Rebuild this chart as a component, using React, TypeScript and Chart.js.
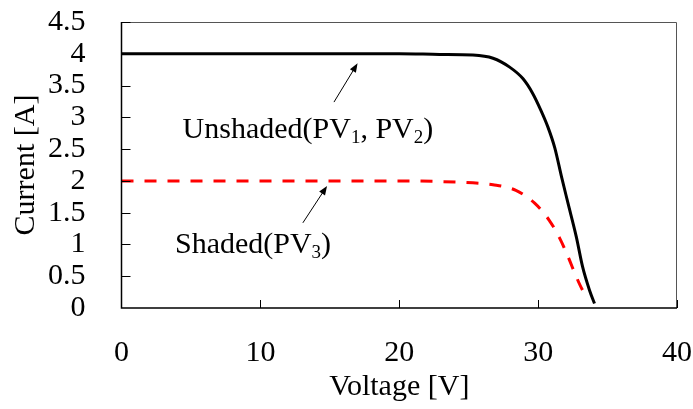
import React, { useEffect, useRef } from "react";
import { Chart, registerables } from "chart.js";

Chart.register(...registerables);

const unshadedV = [0, 10, 20, 22.9, 25.3, 26.75, 27.95, 28.9, 29.6, 30.2, 30.7, 31.2, 31.7, 32.15, 32.75, 33.2, 33.7, 34.06];
const unshadedI = [4, 4, 4, 3.99, 3.98, 3.93, 3.79, 3.61, 3.38, 3.11, 2.85, 2.52, 2.05, 1.65, 1.12, 0.65, 0.28, 0.07];
const shadedV = [0, 10, 20, 22.9, 25.3, 26.75, 28.4, 29.75, 30.8, 31.55, 32.15, 32.75, 33.2, 33.5];
const shadedI = [2, 2, 2, 1.99, 1.97, 1.94, 1.85, 1.65, 1.38, 1.1, 0.81, 0.49, 0.28, 0.18];

const xTicks = [0, 10, 20, 30, 40];
const yTicks = [0, 0.5, 1, 1.5, 2, 2.5, 3, 3.5, 4, 4.5];

const xTitle = "Voltage [V]";
const yTitle = "Current [A]";

// annotations: arrows (from -> to, in data units) and labels
const unshadedArrow = { from: [15.3, 3.24], to: [17.0, 3.85] };
const shadedArrow = { from: [13.06, 1.34], to: [14.8, 1.92] };
const unshadedLabel = { at: [4.4, 2.67], parts: [["Unshaded(PV", false], ["1", true], [", PV", false], ["2", true], [")", false]] };
const shadedLabel = { at: [3.85, 0.865], parts: [["Shaded(PV", false], ["3", true], [")", false]] };

const FONT = "'Times New Roman', 'Liberation Serif', serif";
const FS = 30;

export default function App() {
  const ref = useRef<HTMLCanvasElement | null>(null);

  useEffect(() => {
    const canvas = ref.current;
    if (!canvas) return;

    const decor = {
      id: "decor",
      afterDatasetsDraw(chart: any) {
        const ctx = chart.ctx;
        const ca = chart.chartArea;
        const xs = chart.scales.x;
        const ys = chart.scales.y;
        ctx.save();
        // frame
        ctx.strokeStyle = "#555";
        ctx.lineWidth = 1;
        ctx.beginPath();
        ctx.moveTo(ca.left, ca.top + 0.5);
        ctx.lineTo(ca.right - 0.5, ca.top + 0.5);
        ctx.lineTo(ca.right - 0.5, ca.bottom);
        ctx.stroke();
        ctx.strokeStyle = "#000";
        ctx.lineWidth = 1.5;
        ctx.beginPath();
        ctx.moveTo(ca.left, ca.top);
        ctx.lineTo(ca.left, ca.bottom);
        ctx.lineTo(ca.right, ca.bottom);
        ctx.stroke();
        // inner ticks
        ctx.lineWidth = 1;
        ctx.beginPath();
        yTicks.forEach((v) => {
          if (v === 0) return;
          const y = Math.round(ys.getPixelForValue(v)) + 0.5;
          ctx.moveTo(ca.left, y);
          ctx.lineTo(ca.left + 9, y);
        });
        xTicks.forEach((v) => {
          if (v === 0) return;
          const x = Math.round(xs.getPixelForValue(v)) + 0.5;
          ctx.moveTo(x, ca.bottom);
          ctx.lineTo(x, ca.bottom - 8);
        });
        ctx.stroke();
        // arrows
        const arrow = (a: any) => {
          const x1 = xs.getPixelForValue(a.from[0]);
          const y1 = ys.getPixelForValue(a.from[1]);
          const x2 = xs.getPixelForValue(a.to[0]);
          const y2 = ys.getPixelForValue(a.to[1]);
          const ang = Math.atan2(y2 - y1, x2 - x1);
          const L = 9, W = 3.5;
          ctx.strokeStyle = "#000";
          ctx.lineWidth = 1;
          ctx.beginPath();
          ctx.moveTo(x1, y1);
          ctx.lineTo(x2 - Math.cos(ang) * L * 0.8, y2 - Math.sin(ang) * L * 0.8);
          ctx.stroke();
          ctx.fillStyle = "#000";
          ctx.beginPath();
          ctx.moveTo(x2, y2);
          ctx.lineTo(x2 - Math.cos(ang) * L - Math.sin(ang) * W, y2 - Math.sin(ang) * L + Math.cos(ang) * W);
          ctx.lineTo(x2 - Math.cos(ang) * L + Math.sin(ang) * W, y2 - Math.sin(ang) * L - Math.cos(ang) * W);
          ctx.closePath();
          ctx.fill();
        };
        arrow(unshadedArrow);
        arrow(shadedArrow);
        // labels
        const label = (l: any) => {
          let x = xs.getPixelForValue(l.at[0]);
          const y = ys.getPixelForValue(l.at[1]);
          ctx.fillStyle = "#000";
          ctx.textBaseline = "alphabetic";
          ctx.textAlign = "left";
          l.parts.forEach((p: any) => {
            const sub = p[1];
            ctx.font = (sub ? "19px " : FS + "px ") + FONT;
            ctx.fillText(p[0], x, y + (sub ? 5 : 0));
            x += ctx.measureText(p[0]).width;
          });
        };
        label(unshadedLabel);
        label(shadedLabel);
        ctx.restore();
      },
    };

    const chart = new Chart(canvas, {
      type: "line",
      data: {
        datasets: [
          {
            label: "Unshaded",
            data: unshadedV.map((v, i) => ({ x: v, y: unshadedI[i] })),
            borderColor: "#000",
            borderWidth: 3,
            pointRadius: 0,
            fill: false,
            cubicInterpolationMode: "monotone",
          },
          {
            label: "Shaded",
            data: shadedV.map((v, i) => ({ x: v, y: shadedI[i] })),
            borderColor: "#ff0000",
            borderWidth: 3,
            borderDash: [12, 11],
            pointRadius: 0,
            fill: false,
            cubicInterpolationMode: "monotone",
          },
        ],
      },
      options: {
        animation: false,
        responsive: false,
        layout: { padding: { top: 22, right: 16, left: 0, bottom: 0 } },
        plugins: { legend: { display: false }, tooltip: { enabled: false } },
        scales: {
          x: {
            type: "linear",
            min: 0,
            max: 40,
            afterBuildTicks: (s: any) => { s.ticks = xTicks.map((v) => ({ value: v })); },
            afterFit: (s: any) => { s.height = 101; s.paddingLeft = 0; s.paddingRight = 0; },
            grid: { display: false },
            border: { display: false },
            ticks: { color: "#000", font: { family: FONT, size: FS }, padding: 19, maxRotation: 0, autoSkip: false, callback: (v: any) => String(v) },
            title: { display: true, text: xTitle, color: "#000", font: { family: FONT, size: FS }, padding: { top: 0, bottom: 4 } },
          },
          y: {
            type: "linear",
            min: 0,
            max: 4.5,
            afterBuildTicks: (s: any) => { s.ticks = yTicks.map((v) => ({ value: v })); },
            afterFit: (s: any) => { s.width = 121.5; s.paddingTop = 0; s.paddingBottom = 0; },
            grid: { display: false },
            border: { display: false },
            ticks: { color: "#000", font: { family: FONT, size: FS }, padding: 28, autoSkip: false, callback: (v: any) => String(v) },
            title: { display: true, text: yTitle, color: "#000", font: { family: FONT, size: FS }, padding: { top: 8, bottom: 0 } },
          },
        },
      },
      plugins: [decor],
    } as any);

    return () => chart.destroy();
  }, []);

  return (
    <div style={{ position: "absolute", left: 0, top: 0, width: 693, height: 409, background: "#fff" }}>
      <canvas ref={ref} width={693} height={409} />
    </div>
  );
}
